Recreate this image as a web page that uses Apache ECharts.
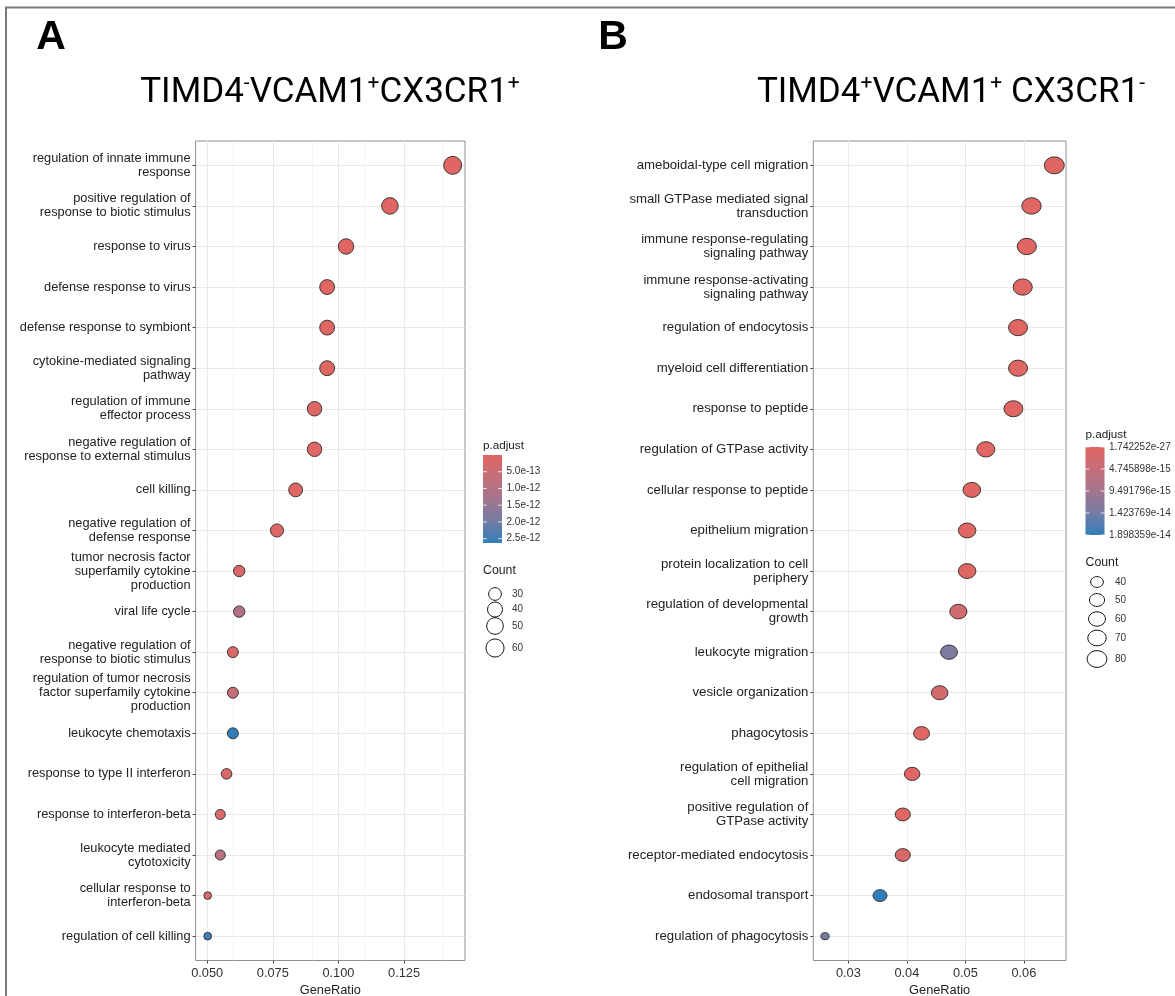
<!DOCTYPE html>
<html>
<head>
<meta charset="utf-8">
<script src="https://cdn.jsdelivr.net/npm/echarts@6/dist/echarts.min.js"></script>
<style>
  html, body { margin: 0; padding: 0; background: #fff; }
  #main { width: 1175px; height: 996px; }
</style>
</head>
<body>
<div id="main"></div>
<script>
// panel A : TIMD4- VCAM1+ CX3CR1+
var termsA = [
  'regulation of innate immune\nresponse',
  'positive regulation of\nresponse to biotic stimulus',
  'response to virus',
  'defense response to virus',
  'defense response to symbiont',
  'cytokine-mediated signaling\npathway',
  'regulation of immune\neffector process',
  'negative regulation of\nresponse to external stimulus',
  'cell killing',
  'negative regulation of\ndefense response',
  'tumor necrosis factor\nsuperfamily cytokine\nproduction',
  'viral life cycle',
  'negative regulation of\nresponse to biotic stimulus',
  'regulation of tumor necrosis\nfactor superfamily cytokine\nproduction',
  'leukocyte chemotaxis',
  'response to type II interferon',
  'response to interferon-beta',
  'leukocyte mediated\ncytotoxicity',
  'cellular response to\ninterferon-beta',
  'regulation of cell killing'
];
var ratioA = [0.1435, 0.1196, 0.1029, 0.0957, 0.0957, 0.0957, 0.0909, 0.0909, 0.0837, 0.0766,
              0.0622, 0.0622, 0.0598, 0.0598, 0.0598, 0.0574, 0.0550, 0.0550, 0.0502, 0.0502];
var countA = [60, 50, 43, 40, 40, 40, 38, 38, 35, 32, 26, 26, 25, 25, 25, 24, 23, 23, 21, 21];
var padjA = [1.2e-20, 2.0e-17, 3.5e-15, 8.0e-16, 1.5e-15, 5.0e-15, 3.0e-15, 4.0e-14, 6.0e-14, 9.0e-14,
             1.5e-13, 1.05e-12, 1.2e-13, 6.5e-13, 2.63e-12, 1.8e-13, 2.2e-13, 9.2e-13, 2.4e-13, 2.5e-12];
var xTicksA = [0.05, 0.075, 0.1, 0.125];
var xTickLabelsA = ['0.050', '0.075', '0.100', '0.125'];
var xMinorA = [0.0625, 0.0875, 0.1125, 0.1375];
var padjBreaksA = [5e-13, 1e-12, 1.5e-12, 2e-12, 2.5e-12];
var padjBreakLabelsA = ['5.0e-13', '1.0e-12', '1.5e-12', '2.0e-12', '2.5e-12'];
var countBreaksA = [30, 40, 50, 60];

// panel B : TIMD4+ VCAM1+ CX3CR1-
var termsB = [
  'ameboidal-type cell migration',
  'small GTPase mediated signal\ntransduction',
  'immune response-regulating\nsignaling pathway',
  'immune response-activating\nsignaling pathway',
  'regulation of endocytosis',
  'myeloid cell differentiation',
  'response to peptide',
  'regulation of GTPase activity',
  'cellular response to peptide',
  'epithelium migration',
  'protein localization to cell\nperiphery',
  'regulation of developmental\ngrowth',
  'leukocyte migration',
  'vesicle organization',
  'phagocytosis',
  'regulation of epithelial\ncell migration',
  'positive regulation of\nGTPase activity',
  'receptor-mediated endocytosis',
  'endosomal transport',
  'regulation of phagocytosis'
];
var ratioB = [0.0652, 0.0613, 0.0605, 0.0598, 0.0590, 0.0590, 0.0582, 0.0535, 0.0511, 0.0503,
              0.0503, 0.0488, 0.0472, 0.0456, 0.0425, 0.0409, 0.0393, 0.0393, 0.0354, 0.0260];
var countB = [83, 78, 77, 76, 75, 75, 74, 68, 65, 64, 64, 62, 60, 58, 54, 52, 50, 50, 45, 33];
var padjB = [1.742252e-27, 3.0e-24, 8.0e-23, 5.0e-22, 2.0e-21, 6.0e-21, 4.0e-20, 1.0e-18, 3.0e-18, 6.0e-18,
             9.0e-18, 2.8e-15, 1.33e-14, 2.3e-15, 2.0e-17, 5.0e-17, 1.0e-16, 1.5e-15, 1.898359e-14, 1.42e-14];
var xTicksB = [0.03, 0.04, 0.05, 0.06];
var xTickLabelsB = ['0.03', '0.04', '0.05', '0.06'];
var xMinorB = [0.025, 0.035, 0.045, 0.055, 0.065];
var padjBreaksB = [1.742252e-27, 4.745898e-15, 9.491796e-15, 1.423769e-14, 1.898359e-14];
var padjBreakLabelsB = ['1.742252e-27', '4.745898e-15', '9.491796e-15', '1.423769e-14', '1.898359e-14'];
var countBreaksB = [40, 50, 60, 70, 80];

var gradColors = ['#e06663', '#c56e79', '#a3758e', '#747ca4', '#327eba'];
var FONT = '"Liberation Sans", Arial, sans-serif';

var chart = echarts.init(document.getElementById('main'), null, {renderer: 'canvas'});

function rows(n) {
  var r = [];
  for (var i = 1; i <= n; i++) r.push(i);
  return r;
}

function sizer(counts, dMin, dSpan) {
  var lo = Math.min.apply(null, counts), hi = Math.max.apply(null, counts);
  return function (c) {
    return dMin + dSpan * Math.sqrt(Math.max(0, (c - lo) / (hi - lo)));
  };
}

var sizeA = sizer(countA, 7.7, 10.3);
var sizeB = sizer(countB, 8.3, 11.7);
var ASPECT_B = 0.85;   // panel B was stretched sideways in the figure

function panel(p) {
  var n = p.terms.length;
  var data = [];
  for (var i = 0; i < n; i++) data.push([p.ratio[i], i + 1, p.padj[i], p.count[i]]);
  return {
    grid: {
      left: p.left, top: 141, width: p.width, height: 819.5,
      outerBoundsMode: 'none', containLabel: false,
      show: true, borderColor: '#8f8f8f', borderWidth: 1, backgroundColor: '#fff'
    },
    xAxis: {
      type: 'value', gridIndex: p.idx, min: p.xmin, max: p.xmax,
      name: 'GeneRatio', nameLocation: 'middle', nameGap: 19,
      nameTextStyle: {fontFamily: FONT, fontSize: 12.8, color: '#222'},
      axisLine: {show: false},
      axisTick: {show: true, length: 3, customValues: p.ticks, lineStyle: {color: '#444', width: 1}},
      axisLabel: {
        customValues: p.ticks, margin: 6, fontFamily: FONT, fontSize: 12.8, color: '#333',
        formatter: function (v) {
          for (var k = 0; k < p.ticks.length; k++) if (Math.abs(p.ticks[k] - v) < 1e-9) return p.tickLabels[k];
          return '';
        }
      },
      splitLine: {show: true, lineStyle: {color: '#e9e9e9', width: 1}}
    },
    yAxis: {
      type: 'value', gridIndex: p.idx, inverse: true, min: 0.4, max: n + 0.6,
      axisLine: {show: false},
      axisTick: {show: true, length: 3, customValues: rows(n), lineStyle: {color: '#444', width: 1}},
      axisLabel: {
        customValues: rows(n), margin: 5, fontFamily: FONT, fontSize: p.labelSize, lineHeight: 14,
        color: '#222', align: 'right',
        formatter: function (v) { return p.terms[Math.round(v) - 1] || ''; }
      },
      splitLine: {show: true, lineStyle: {color: '#e9e9e9', width: 1}}
    },
    series: {
      type: 'scatter', xAxisIndex: p.idx, yAxisIndex: p.idx, data: data,
      symbol: 'circle',
      symbolSize: function (v) { return p.size(v[3]); },
      itemStyle: {borderColor: '#2b2b2b', borderWidth: 0.9, opacity: 1},
      markLine: {
        silent: true, symbol: ['none', 'none'], z: 1, animation: false,
        label: {show: false},
        lineStyle: {color: '#eeeeee', width: 0.7, type: 'solid'},
        emphasis: {disabled: true},
        data: p.minor.map(function (v) { return {xAxis: v}; })
      }
    },
    visualMap: {
      type: 'continuous', show: false, seriesIndex: p.idx, dimension: 2,
      min: Math.min.apply(null, p.padj), max: Math.max.apply(null, p.padj),
      inRange: {color: gradColors}
    }
  };
}

var A = panel({
  idx: 0, left: 195.6, width: 269.4, xmin: 0.0456, xmax: 0.1482, labelSize: 12.8,
  terms: termsA, ratio: ratioA, count: countA, padj: padjA,
  ticks: xTicksA, tickLabels: xTickLabelsA, minor: xMinorA,
  size: function (c) { return sizeA(c); }
});
var B = panel({
  idx: 1, left: 813.3, width: 252.7, xmin: 0.0240, xmax: 0.0672, labelSize: 13.2,
  terms: termsB, ratio: ratioB, count: countB, padj: padjB,
  ticks: xTicksB, tickLabels: xTickLabelsB, minor: xMinorB,
  size: function (c) { var w = sizeB(c); return [w, w * ASPECT_B]; }
});

// legends (ggplot style colourbar + size keys)
function legend(g, L) {
  var lo = Math.min.apply(null, L.padj), hi = Math.max.apply(null, L.padj);
  var stops = gradColors.map(function (c, i) { return {offset: i / (gradColors.length - 1), color: c}; });
  g.push({type: 'text', x: L.x, y: L.titleY, style: {text: 'p.adjust', fontFamily: FONT, fontSize: 11.7, fill: '#222', verticalAlign: 'middle'}});
  g.push({type: 'rect', shape: {x: L.x, y: L.barTop, width: 19, height: L.barH},
          style: {fill: new echarts.graphic.LinearGradient(0, 0, 0, 1, stops)}});
  L.breaks.forEach(function (v, i) {
    var y = L.barTop + (v - lo) / (hi - lo) * L.barH;
    g.push({type: 'line', shape: {x1: L.x, y1: y, x2: L.x + 3.8, y2: y}, style: {stroke: 'rgba(255,255,255,0.8)', lineWidth: 1}});
    g.push({type: 'line', shape: {x1: L.x + 15.2, y1: y, x2: L.x + 19, y2: y}, style: {stroke: 'rgba(255,255,255,0.8)', lineWidth: 1}});
    g.push({type: 'text', x: L.x + 23.5, y: y, style: {text: L.breakLabels[i], fontFamily: FONT, fontSize: 10, fill: '#333', verticalAlign: 'middle'}});
  });
  g.push({type: 'text', x: L.x, y: L.countY, style: {text: 'Count', fontFamily: FONT, fontSize: 12.3, fill: '#222', verticalAlign: 'middle'}});
  L.counts.forEach(function (c, i) {
    var s = L.size(c);
    var w = s[0], h = s[1];
    g.push({type: 'ellipse', shape: {cx: L.keyX, cy: L.keyY[i], rx: w / 2, ry: h / 2},
            style: {fill: 'none', stroke: '#111', lineWidth: 1}});
    g.push({type: 'text', x: L.labelX, y: L.keyY[i], style: {text: String(c), fontFamily: FONT, fontSize: 10, fill: '#333', verticalAlign: 'middle'}});
  });
}

var graphics = [
  {type: 'line', shape: {x1: 5, y1: 7.5, x2: 1175, y2: 7.5}, style: {stroke: '#7a7a7a', lineWidth: 2}},
  {type: 'line', shape: {x1: 6, y1: 7, x2: 6, y2: 996}, style: {stroke: '#7a7a7a', lineWidth: 2}},
  {type: 'text', x: 51, y: 38, style: {text: 'A', fontFamily: FONT, fontWeight: 'bold', fontSize: 41, fill: '#000', align: 'center', verticalAlign: 'middle'}},
  {type: 'text', x: 613, y: 38, style: {text: 'B', fontFamily: FONT, fontWeight: 'bold', fontSize: 41, fill: '#000', align: 'center', verticalAlign: 'middle'}}
];

var titleRich = {
  b: {fontFamily: 'Roboto, sans-serif', fontWeight: 400, fontSize: 35, lineHeight: 40, color: '#111'},
  s: {fontFamily: 'Roboto, sans-serif', fontWeight: 400, fontSize: 21, lineHeight: 24, color: '#111', verticalAlign: 'top'}
};
graphics.push({type: 'text', x: 330, y: 93, style: {
  text: '{b|TIMD4}{s|-}{b|VCAM1}{s|+}{b|CX3CR1}{s|+}', rich: titleRich, align: 'center', verticalAlign: 'middle'}});
graphics.push({type: 'text', x: 951, y: 93, style: {
  text: '{b|TIMD4}{s|+}{b|VCAM1}{s|+}{b| CX3CR1}{s|-}', rich: titleRich, align: 'center', verticalAlign: 'middle'}});

legend(graphics, {
  x: 483, titleY: 446, barTop: 455, barH: 88, padj: padjA,
  breaks: padjBreaksA, breakLabels: padjBreakLabelsA,
  countY: 571, counts: countBreaksA, keyX: 495, keyY: [594, 609.5, 626, 648], labelX: 512,
  size: function (c) { var d = sizeA(c); return [d, d]; }
});
legend(graphics, {
  x: 1085.5, titleY: 435, barTop: 447, barH: 88, padj: padjB,
  breaks: padjBreaksB, breakLabels: padjBreakLabelsB,
  countY: 563, counts: countBreaksB, keyX: 1097, keyY: [582, 600, 619, 638, 659], labelX: 1115,
  size: function (c) { var w = sizeB(c); return [w, w * ASPECT_B]; }
});

var option = {
  animation: false,
  backgroundColor: '#fff',
  grid: [A.grid, B.grid],
  xAxis: [A.xAxis, B.xAxis],
  yAxis: [A.yAxis, B.yAxis],
  visualMap: [A.visualMap, B.visualMap],
  series: [A.series, B.series],
  graphic: graphics
};

chart.setOption(option);
</script>
</body>
</html>
